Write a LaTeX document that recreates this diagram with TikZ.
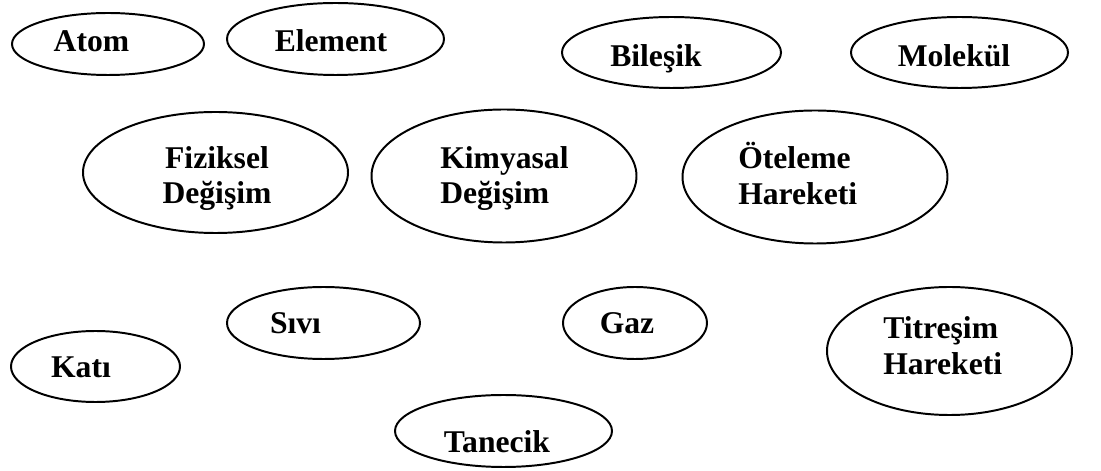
\documentclass[tikz,border=0pt]{standalone}
\usepackage{fontspec}
\setmainfont{Liberation Serif}
\usepackage{tikz}
\usetikzlibrary{shapes.geometric}
\tikzset{
  bubble/.style={draw,ellipse,line width=1.4pt,inner sep=0pt},
  bubbletext/.style={inner sep=0pt,font=\fontsize{22.5}{25.5}\selectfont\bfseries}
}

\begin{document}
\begin{tikzpicture}
    \useasboundingbox (0,0) rectangle (27.525,11.775);
    % top row
    \node[bubble,minimum width=4.8cm,minimum height=1.55cm] (atom) at (2.7,10.675) {};
    \node[bubbletext,anchor=base] (atomtext) at (2.2875,10.475) {Atom};
    \node[bubble,minimum width=5.425cm,minimum height=1.8cm] (element) at (8.3875,10.8) {};
    \node[bubbletext,anchor=base] (elementtext) at (8.275,10.475) {Element};
    \node[bubble,minimum width=5.475cm,minimum height=1.775cm] (bilesik) at (16.7875,10.4625) {};
    \node[bubbletext,anchor=base] (bilesiktext) at (16.4,10.1) {Bileşik};
    \node[bubble,minimum width=5.425cm,minimum height=1.775cm] (molekul) at (23.9875,10.4625) {};
    \node[bubbletext,anchor=base] (molekultext) at (23.85,10.1) {Molekül};
    % middle row
    \node[bubble,minimum width=6.625cm,minimum height=3.025cm] (fiziksel) at (5.3875,7.4625) {};
    \node[bubbletext,align=center] (fizikseltext) at (5.425,7.3125) {Fiziksel\\Değişim};
    \node[bubble,minimum width=6.625cm,minimum height=3.325cm] (kimyasal) at (12.6,7.375) {};
    \node[bubbletext,align=left,anchor=west] (kimyasaltext) at (11.0,7.3125) {Kimyasal\\Değişim};
    \node[bubble,minimum width=6.625cm,minimum height=3.325cm] (oteleme) at (20.375,7.35) {};
    \node[bubbletext,align=left,anchor=west] (otelemetext) at (18.45,7.44) {Öteleme\\Hareketi};
    % bottom rows
    \node[bubble,minimum width=4.225cm,minimum height=1.775cm] (kati) at (2.3875,2.6125) {};
    \node[bubbletext,anchor=base] (katitext) at (2.025,2.325) {Katı};
    \node[bubble,minimum width=4.825cm,minimum height=1.8cm] (sivi) at (8.0875,3.7) {};
    \node[bubbletext,anchor=base] (sivitext) at (7.3875,3.425) {Sıvı};
    \node[bubble,minimum width=3.6cm,minimum height=1.8cm] (gaz) at (15.875,3.7) {};
    \node[bubbletext,anchor=base] (gaztext) at (15.675,3.425) {Gaz};
    \node[bubble,minimum width=6.125cm,minimum height=3.2cm] (titresim) at (23.7375,3.0) {};
    \node[bubbletext,align=left,anchor=west] (titresimtext) at (22.075,3.125) {Titreşim\\Hareketi};
    \node[bubble,minimum width=5.425cm,minimum height=1.8cm] (tanecik) at (12.5875,1.0) {};
    \node[bubbletext,anchor=base] (taneciktext) at (12.425,0.45) {Tanecik};
\end{tikzpicture}
\end{document}
